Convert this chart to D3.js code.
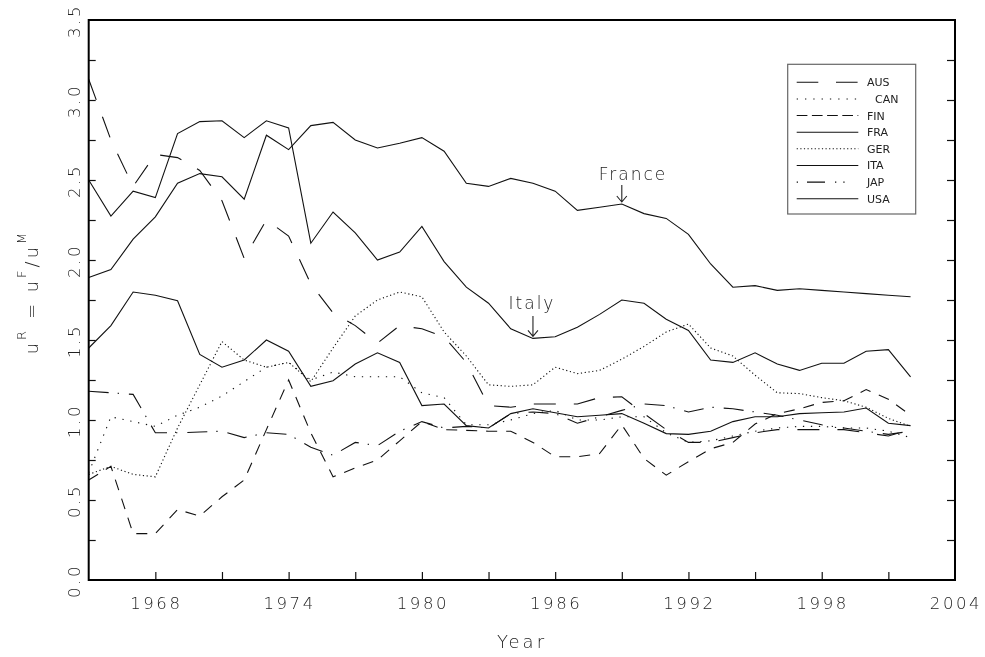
<!DOCTYPE html>
<html>
<head>
<meta charset="utf-8">
<script src="https://d3js.org/d3.v7.min.js"></script>
<style>
  body { margin: 0; background: #fff; }
  svg { filter: grayscale(1); }
  text { font-family: "DejaVu Sans", sans-serif; fill: #222; font-weight: 200; }
</style>
</head>
<body>
<svg id="chart" width="985" height="657"></svg>
<script>
// ---- data ----
const years = [1965,1966,1967,1968,1969,1970,1971,1972,1973,1974,
               1975,1976,1977,1978,1979,1980,1981,1982,1983,1984,
               1985,1986,1987,1988,1989,1990,1991,1992,1993,1994,
               1995,1996,1997,1998,1999,2000,2001,2002];

const aus = [3.13,2.75,2.46,2.66,2.64,2.56,2.37,2.01,2.25,2.15,
             1.85,1.67,1.59,1.48,1.59,1.57,1.52,1.36,1.09,1.08,
             1.10,1.10,1.10,1.14,1.145,1.04,0.94,0.86,0.86,0.89,
             0.92,0.94,0.94,0.94,0.94,0.92,0.90,0.94];
const can = [0.67,1.02,0.99,0.96,1.03,1.08,1.15,1.24,1.33,1.36,
             1.25,1.30,1.27,1.27,1.27,1.17,1.14,0.97,0.97,1.00,
             1.04,1.06,1.00,1.00,1.02,1.02,0.92,0.86,0.87,0.90,
             0.93,0.95,0.96,0.96,0.95,0.95,0.93,0.89];
const fin = [0.625,0.71,0.29,0.29,0.44,0.40,0.52,0.625,0.94,1.25,
             0.92,0.645,0.70,0.75,0.87,0.99,0.94,0.935,0.93,0.93,
             0.86,0.77,0.77,0.79,0.97,0.76,0.655,0.74,0.82,0.86,
             0.975,1.04,1.07,1.11,1.12,1.19,1.13,1.03];
const fra = [1.89,1.94,2.13,2.27,2.48,2.54,2.52,2.38,2.78,2.69,
             2.84,2.86,2.75,2.70,2.73,2.765,2.68,2.48,2.46,2.51,
             2.48,2.43,2.31,2.33,2.35,2.29,2.26,2.16,1.975,1.83,
             1.84,1.81,1.82,1.81,1.80,1.79,1.78,1.77];
const ger = [0.66,0.71,0.66,0.645,0.95,1.22,1.49,1.375,1.33,1.36,
             1.24,1.45,1.65,1.75,1.80,1.77,1.55,1.40,1.22,1.21,
             1.22,1.33,1.29,1.31,1.38,1.46,1.55,1.60,1.45,1.40,
             1.28,1.17,1.165,1.14,1.12,1.08,1.01,0.96];
const ita = [2.50,2.275,2.43,2.39,2.79,2.865,2.87,2.765,2.87,2.825,
             2.105,2.30,2.17,2.00,2.05,2.21,1.99,1.83,1.73,1.57,
             1.51,1.52,1.58,1.66,1.75,1.73,1.63,1.56,1.375,1.36,
             1.42,1.35,1.31,1.355,1.355,1.43,1.44,1.27];
const jap = [1.18,1.17,1.16,0.92,0.92,0.925,0.93,0.89,0.92,0.91,
             0.83,0.78,0.86,0.84,0.93,0.99,0.95,0.96,0.95,1.04,
             1.05,1.04,0.98,1.02,1.06,1.10,1.09,1.05,1.08,1.07,
             1.05,1.03,1.00,0.97,0.95,0.93,0.91,0.93];
const usa = [1.45,1.59,1.80,1.78,1.745,1.41,1.33,1.375,1.50,1.43,
             1.21,1.245,1.35,1.42,1.36,1.09,1.10,0.965,0.95,1.04,
             1.07,1.045,1.02,1.03,1.04,0.98,0.915,0.91,0.93,0.99,
             1.02,1.02,1.04,1.045,1.05,1.075,0.98,0.965];

const names = ["AUS", "CAN", "FIN", "FRA", "GER", "ITA", "JAP", "USA"];
const xLabelYears = [1968, 1974, 1980, 1986, 1992, 1998, 2004];
const xMinorYears = [1968, 1971, 1974, 1977, 1980, 1983, 1986, 1989, 1992, 1995, 1998, 2001];
const yLabels = [0.0, 0.5, 1.0, 1.5, 2.0, 2.5, 3.0, 3.5];
const yMinor = [0.25, 0.5, 0.75, 1.0, 1.25, 1.5, 1.75, 2.0, 2.25, 2.5, 2.75, 3.0, 3.25];

// ---- drawing ----
const svg = d3.select("#chart");
const plotL = 88.7, plotR = 955, plotT = 20, plotB = 580;

const x = d3.scaleLinear().domain([1965, 2004]).range([plotL, plotR]);
const y = d3.scaleLinear().domain([0, 3.5]).range([plotB, plotT]);

const series = [
  {name: "AUS", values: aus, dash: "22,18"},
  {name: "CAN", values: can, dash: "1.3,6.7"},
  {name: "FIN", values: fin, dash: "11,9"},
  {name: "FRA", values: fra, dash: null},
  {name: "GER", values: ger, dash: "1.2,2.6"},
  {name: "ITA", values: ita, dash: null},
  {name: "JAP", values: jap, dash: "20,9,1.3,10"},
  {name: "USA", values: usa, dash: null}
];

const line = d3.line()
  .x((d, i) => x(years[i]))
  .y(d => y(d));

svg.append("g").selectAll("path")
  .data(series)
  .join("path")
  .attr("d", d => line(d.values))
  .attr("fill", "none")
  .attr("stroke", "#111")
  .attr("stroke-width", 1.1)
  .attr("stroke-dasharray", d => d.dash);

// ticks
svg.append("g")
  .attr("transform", `translate(0,${plotB})`)
  .call(d3.axisBottom(x).tickValues(xMinorYears).tickSizeInner(-8).tickSizeOuter(0).tickFormat(""))
  .call(g => g.select(".domain").remove())
  .selectAll("line").attr("stroke", "#111").attr("stroke-width", 1.2);

svg.append("g")
  .attr("transform", `translate(${plotL},0)`)
  .call(d3.axisLeft(y).tickValues(yMinor).tickSizeInner(-7).tickSizeOuter(0).tickFormat(""))
  .call(g => g.select(".domain").remove())
  .selectAll("line").attr("stroke", "#111").attr("stroke-width", 1.2);

svg.append("g")
  .attr("transform", `translate(${plotR},0)`)
  .call(d3.axisRight(y).tickValues(yMinor).tickSizeInner(-8).tickSizeOuter(0).tickFormat(""))
  .call(g => g.select(".domain").remove())
  .selectAll("line").attr("stroke", "#111").attr("stroke-width", 1.2);

// frame
svg.append("rect")
  .attr("x", plotL).attr("y", plotT)
  .attr("width", plotR - plotL).attr("height", plotB - plotT)
  .attr("fill", "none").attr("stroke", "#000").attr("stroke-width", 2);

// tick labels
svg.append("g").selectAll("text")
  .data(xLabelYears)
  .join("text")
  .attr("x", d => x(d) + 1)
  .attr("y", 608.5)
  .attr("text-anchor", "middle")
  .style("font-size", "16.5px")
  .style("letter-spacing", "2.6px")
  .text(d => d);

svg.append("g").selectAll("text")
  .data(yLabels)
  .join("text")
  .attr("transform", d => `translate(79.5,${y(d) + 1}) rotate(-90)`)
  .attr("text-anchor", "middle")
  .style("font-size", "16.5px")
  .style("letter-spacing", "2.6px")
  .text(d => d3.format(".1f")(d));

// axis titles
svg.append("text")
  .attr("x", 522).attr("y", 648)
  .attr("text-anchor", "middle")
  .style("font-size", "18px")
  .style("letter-spacing", "3px")
  .text("Year");

const yt = svg.append("text")
  .attr("transform", "translate(38,292) rotate(-90)")
  .attr("text-anchor", "middle")
  .style("font-size", "18px")
  .style("letter-spacing", "3px");
yt.append("tspan").text("u");
yt.append("tspan").attr("dy", -12).style("font-size", "13px").text("R");
yt.append("tspan").attr("dy", 12).text(" = u");
yt.append("tspan").attr("dy", -12).style("font-size", "13px").text("F");
yt.append("tspan").attr("dy", 12).text("/u");
yt.append("tspan").attr("dy", -12).style("font-size", "13px").text("M");

// annotations
function note(label, yr, values, textX, textY, y0, y1) {
  const ax = x(yr);
  svg.append("text")
    .attr("x", textX).attr("y", textY)
    .attr("text-anchor", "middle")
    .style("font-size", "17px")
    .style("letter-spacing", "2px")
    .text(label);
  svg.append("path")
    .attr("d", `M${ax},${y0}V${y1}M${ax - 5},${y1 - 6}L${ax},${y1}L${ax + 5},${y1 - 6}`)
    .attr("fill", "none").attr("stroke", "#222").attr("stroke-width", 1.1);
}
note("France", 1989, fra, 633, 180, 185, y(fra[years.indexOf(1989)]) - 2);
note("Italy", 1985, ita, 532, 309, 316, y(ita[years.indexOf(1985)]) - 2);

// legend
const lg = svg.append("g");
lg.append("rect")
  .attr("x", 787.7).attr("y", 64.3)
  .attr("width", 128).attr("height", 149.7)
  .attr("fill", "#fff").attr("stroke", "#666").attr("stroke-width", 1.2);

const legendDash = {
  AUS: "21.6,17.7", CAN: "1.3,7", FIN: "10.7,4.5", FRA: null,
  GER: "1.2,2.4", ITA: null, JAP: "1.3,9,18,10,1.3,7,1.3,30", USA: null
};
const row = lg.selectAll("g.row")
  .data(names)
  .join("g")
  .attr("class", "row")
  .attr("transform", (d, i) => `translate(0,${82.3 + i * 16.63})`);
row.append("line")
  .attr("x1", 796.7).attr("x2", 858.3)
  .attr("stroke", "#111").attr("stroke-width", 1.1)
  .attr("stroke-dasharray", d => legendDash[d]);
row.append("text")
  .attr("x", d => d === "CAN" ? 875 : 867)
  .attr("y", 4)
  .style("font-size", "11px")
  .style("font-weight", "400")
  .text(d => d);
</script>
</body>
</html>
